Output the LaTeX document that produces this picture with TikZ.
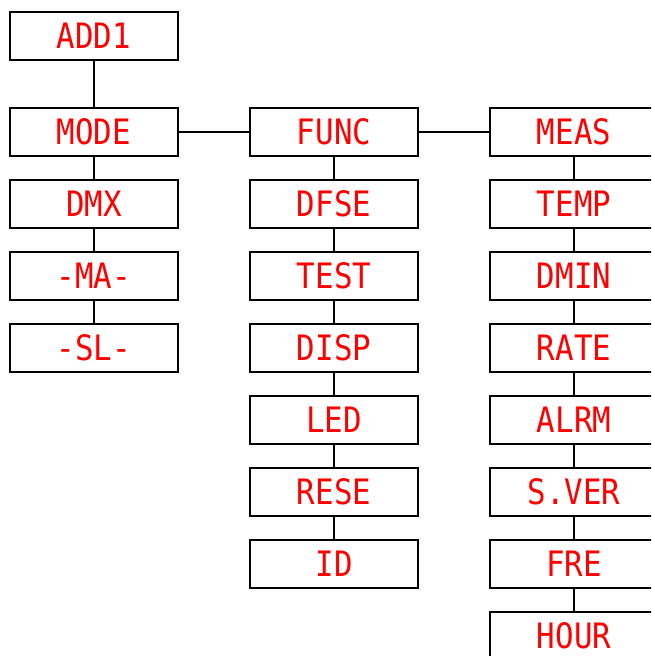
\documentclass[tikz,border=0pt]{standalone}
\usepackage{fontspec}
\newfontfamily\segfont[FakeStretch=0.88]{DejaVu Sans Mono}
\begin{document}
\begin{tikzpicture}[x=1pt,y=-1pt,
  menubox/.style={draw=black,line width=1.5pt,fill=white,minimum width=168pt,minimum height=48pt,inner sep=0pt,
    font=\segfont\fontsize{35}{35}\selectfont,text=red},
  link/.style={draw=black,line width=1.5pt}]
\useasboundingbox (0,0) rectangle (651,656);
\clip (0,0) rectangle (651,656);
% column 1
\node[menubox] (add) at (94,36) {ADD1};
\node[menubox] (mode) at (94,132) {MODE};
\node[menubox] (dmx) at (94,204) {DMX};
\node[menubox] (ma) at (94,276) {-MA-};
\node[menubox] (sl) at (94,348) {-SL-};
% column 2
\node[menubox] (func) at (334,132) {FUNC};
\node[menubox] (dfse) at (334,204) {DFSE};
\node[menubox] (test) at (334,276) {TEST};
\node[menubox] (disp) at (334,348) {DISP};
\node[menubox] (led) at (334,420) {LED};
\node[menubox] (rese) at (334,492) {RESE};
\node[menubox] (id) at (334,564) {ID};
% column 3
\node[menubox] (meas) at (574,132) {MEAS};
\node[menubox] (temp) at (574,204) {TEMP};
\node[menubox] (dmin) at (574,276) {DMIN};
\node[menubox] (rate) at (574,348) {RATE};
\node[menubox] (alrm) at (574,420) {ALRM};
\node[menubox] (sver) at (574,492) {S.VER};
\node[menubox] (fre) at (574,564) {FRE};
\node[menubox] (hour) at (574,636) {HOUR};
% connectors
\draw[link] (add) -- (mode);
\draw[link] (mode) -- (dmx);
\draw[link] (dmx) -- (ma);
\draw[link] (ma) -- (sl);
\draw[link] (mode) -- (func);
\draw[link] (func) -- (meas);
\draw[link] (func) -- (dfse);
\draw[link] (dfse) -- (test);
\draw[link] (test) -- (disp);
\draw[link] (disp) -- (led);
\draw[link] (led) -- (rese);
\draw[link] (rese) -- (id);
\draw[link] (meas) -- (temp);
\draw[link] (temp) -- (dmin);
\draw[link] (dmin) -- (rate);
\draw[link] (rate) -- (alrm);
\draw[link] (alrm) -- (sver);
\draw[link] (sver) -- (fre);
\draw[link] (fre) -- (hour);
\end{tikzpicture}
\end{document}
